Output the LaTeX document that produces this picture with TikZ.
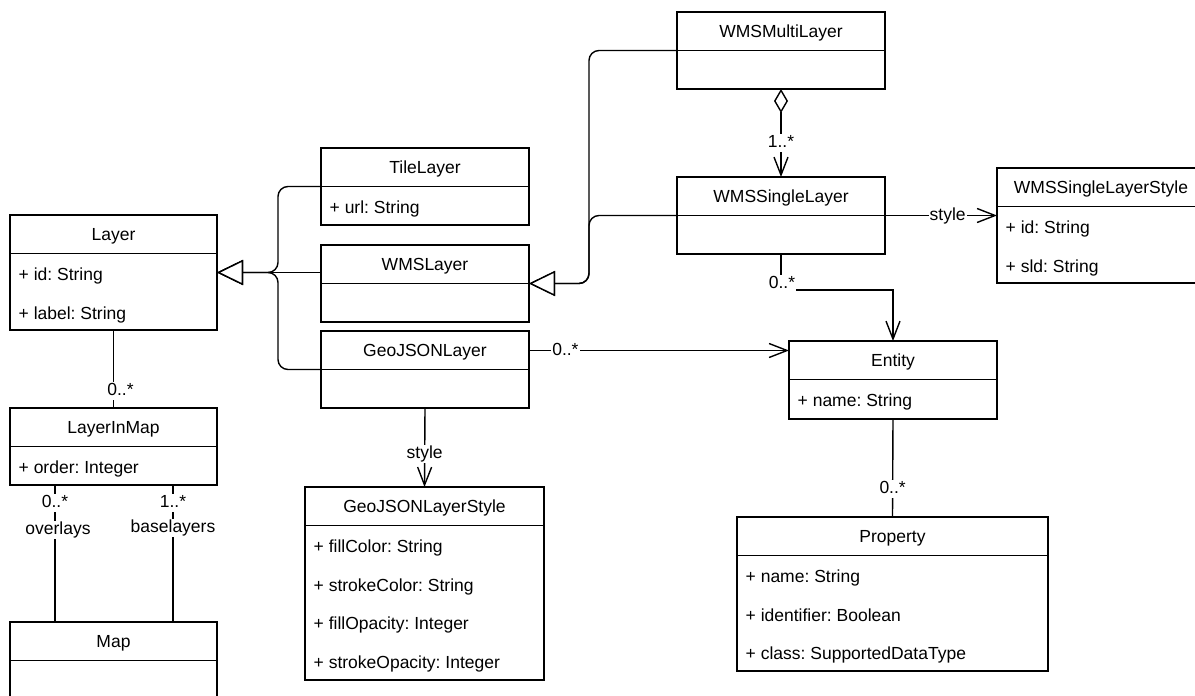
\documentclass[tikz,border=0pt]{standalone}
\usepackage{fontspec}
\setmainfont{Liberation Sans}
\frenchspacing
\usetikzlibrary{arrows.meta}
\newcommand\umlbox[6]{% name, left, top, width, height, title
  \node[clsbox, minimum width=#4pt, minimum height=#5pt] (#1) at (#2,#3) {};
  \draw ([yshift=-38.5pt]#1.north west) -- ([yshift=-38.5pt]#1.north east);
  \node[hdr] (#1-t) at ([yshift=-25pt]#1.north) {#6};
}
\begin{document}
\begin{tikzpicture}[x=1pt,y=-1pt,line width=1.4pt,
  txt/.style={font=\fontsize{17.5}{21}\selectfont\frenchspacing, inner sep=0pt},
  clsbox/.style={draw, inner sep=0pt, outer sep=0pt, anchor=north west},
  hdr/.style={txt, anchor=base},
  attr/.style={txt, anchor=base west},
  lbl/.style={txt, fill=white, inner sep=1pt, text height=12.5pt, text depth=3.5pt},
  gen/.style={-{Triangle[length=26pt,width=25pt,fill=white]}, rounded corners=10pt},
  assoc/.style={-{Straight Barb[length=18pt,width=14pt]}},
  aggr/.style={{Diamond[length=24pt,width=14pt,fill=white]}-{Straight Barb[length=18pt,width=14pt]}},
  plain/.style={-}]
\clip (0,0) rectangle (1195,696);
\fill[white] (0,0) rectangle (1195,696);

% classes
\umlbox{wmsmulti}{677}{12}{208}{77}{WMSMultiLayer}
\umlbox{tile}{321}{148}{208}{77}{TileLayer}
\node[attr] (tile-a1) at (329,213.5) {+ url: String};
\umlbox{wmssingle}{677}{177}{208}{77}{WMSSingleLayer}
\umlbox{wsls}{997}{168}{208}{115}{WMSSingleLayerStyle}
\node[attr] (wsls-a1) at (1005,233.5) {+ id: String};
\node[attr] (wsls-a2) at (1005,272) {+ sld: String};
\umlbox{layer}{10}{215}{207}{115}{Layer}
\node[attr] (layer-a1) at (18,280.5) {+ id: String};
\node[attr] (layer-a2) at (18,319) {+ label: String};
\umlbox{wmslayer}{321}{245}{208}{77}{WMSLayer}
\umlbox{geojson}{321}{331}{208}{77}{GeoJSONLayer}
\umlbox{entity}{789}{341}{208}{78}{Entity}
\node[attr] (entity-a1) at (797,406.5) {+ name: String};
\umlbox{lim}{10}{408}{207}{77}{LayerInMap}
\node[attr] (lim-a1) at (18,473.5) {+ order: Integer};
\umlbox{gjstyle}{305}{487}{239}{193}{GeoJSONLayerStyle}
\node[attr] (gjstyle-a1) at (313,552.5) {+ fillColor: String};
\node[attr] (gjstyle-a2) at (313,591) {+ strokeColor: String};
\node[attr] (gjstyle-a3) at (313,629.5) {+ fillOpacity: Integer};
\node[attr] (gjstyle-a4) at (313,668) {+ strokeOpacity: Integer};
\umlbox{property}{737}{517}{311}{154}{Property}
\node[attr] (property-a1) at (745,582.5) {+ name: String};
\node[attr] (property-a2) at (745,621) {+ identifier: Boolean};
\node[attr] (property-a3) at (745,659.5) {+ class: SupportedDataType};
\umlbox{map}{10}{622}{207}{115}{Map}

% junctions
\coordinate (j1) at (278,272.5);
\coordinate (j2) at (589,283.5);

% generalizations to Layer
\draw[gen] (tile.west) -| (j1) -- (layer.east);
\draw[gen] (wmslayer.west |- j1) -- (layer.east);
\draw[gen] (geojson.west) -| (j1) -- (layer.east);

% generalizations to WMSLayer
\draw[gen] (wmsmulti.west) -| (j2) -- (wmslayer.east);
\draw[gen] (wmssingle.west) -| (j2) -- (wmslayer.east);

% aggregation
\draw[aggr] (wmsmulti.south) -- node[lbl,pos=0.61] (m1) {1..*} (wmssingle.north);

% style of WMSSingleLayer
\draw[assoc] (wmssingle.east) -- node[lbl,pos=0.56] (s1) {style} (wmssingle.east -| wsls.west);

% WMSSingleLayer to Entity
\coordinate (c1) at (wmssingle.south |- 0,290);
\draw[plain] (wmssingle.south) -- (c1);
\draw[assoc] (c1) -| (entity.north);
\node[lbl] (m2) at (782,283.5) {0..*};

% GeoJSONLayer to Entity
\coordinate (gjr) at ([yshift=-19.5pt]geojson.north east);
\draw[assoc] (gjr) -- node[lbl,pos=0.14] (m3) {0..*} (gjr -| entity.west);

% GeoJSONLayer style
\draw[assoc] (geojson.south) -- node[lbl,pos=0.58] (s2) {style} (gjstyle.north);

% Layer to LayerInMap
\draw[plain] (layer.south) -- node[lbl,pos=0.78,xshift=7pt] (m4) {0..*} (lim.south |- lim.north);

% LayerInMap to Map
\coordinate (la) at ([xshift=45pt]lim.south west);
\coordinate (lb) at ([xshift=163pt]lim.south west);
\draw[plain] (la) -- node[lbl,pos=0.135] (m5) {0..*} node[lbl,pos=0.33,xshift=3pt] (r1) {overlays} (la |- map.north);
\draw[plain] (lb) -- node[lbl,pos=0.135] (m6) {1..*} node[lbl,pos=0.315] (r2) {baselayers} (lb |- map.north);

% Entity to Property
\draw[plain] (entity.south) -- node[lbl,pos=0.71] (m7) {0..*} (property.north);
\end{tikzpicture}
\end{document}
